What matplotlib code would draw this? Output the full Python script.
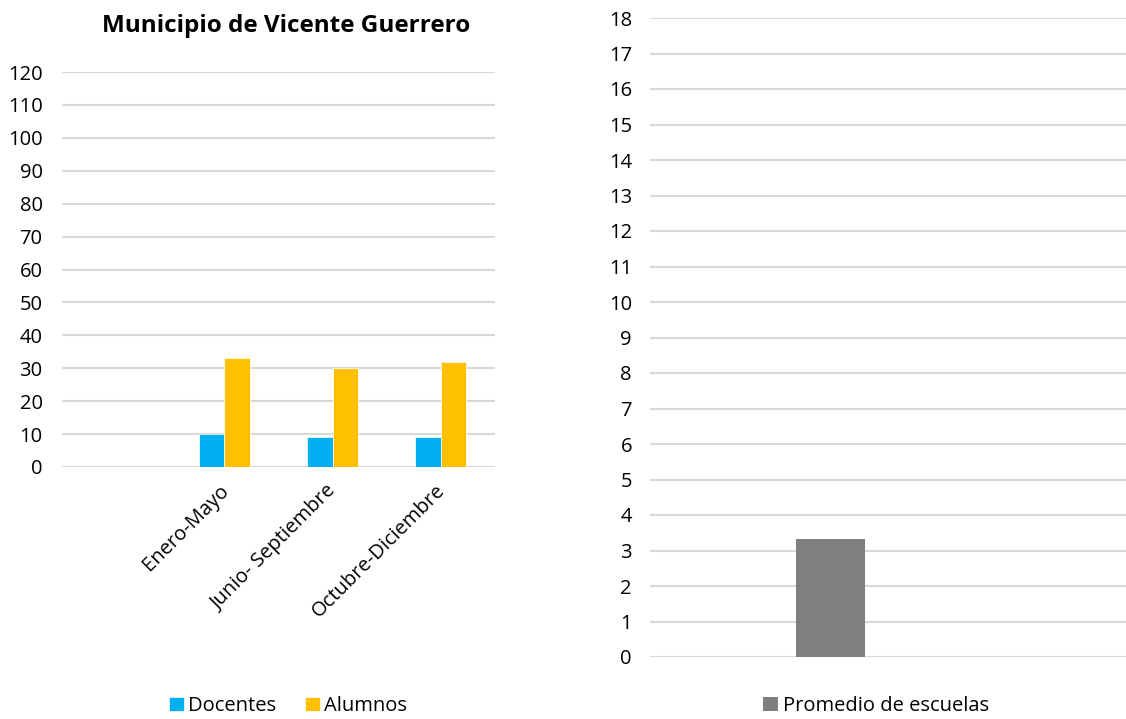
import matplotlib.pyplot as plt
import matplotlib.transforms as mtransforms
import numpy as np

# datos
periodos = ['', 'Enero-Mayo', 'Junio- Septiembre', 'Octubre-Diciembre']
docentes = [0, 10, 9, 9]
alumnos = [0, 33, 30, 32]

promedio_label = ['']
promedio_escuelas = [3.33]

plt.rcParams['font.family'] = ['Open Sans', 'DejaVu Sans']

fig = plt.figure(figsize=(11.26, 7.19), dpi=100)

grid_c = '#d9d9d9'
fs = 14.5

# grafica izquierda
ax1 = fig.add_axes([62 / 1126, 1 - 467 / 719, 433 / 1126, 395 / 719])
x = np.arange(len(periodos))
w = 0.235
b1 = ax1.bar(x - w / 2, docentes, w, color='#00B0F0', edgecolor='white', linewidth=0.5, label='Docentes', zorder=3)
b2 = ax1.bar(x + w / 2, alumnos, w, color='#FFC000', edgecolor='white', linewidth=0.5, label='Alumnos', zorder=3)
ax1.set_xlim(-0.5, 3.5)
ax1.set_ylim(0, 120)
ax1.set_yticks(range(0, 121, 10))
ax1.set_xticks(x)
ax1.set_xticklabels(periodos, rotation=45, ha='right', rotation_mode='anchor')
ax1.tick_params(axis='x', length=0, pad=12, labelsize=fs)
ax1.tick_params(axis='y', length=0, pad=14, labelsize=fs)
off = mtransforms.ScaledTranslation(-6 / 100, 3 / 100, fig.dpi_scale_trans)
for lbl in ax1.get_xticklabels():
    lbl.set_transform(lbl.get_transform() + off)
ax1.grid(axis='y', color=grid_c, linewidth=1.5, zorder=0)
for s in ax1.spines.values():
    s.set_visible(False)
fig.text(286 / 1126, 1 - 26 / 719, 'Municipio de Vicente Guerrero', ha='center', va='center',
         fontsize=17.5, fontweight='bold')
fig.legend(handles=[b1, b2], loc='center', bbox_to_anchor=(288 / 1126, 1 - 706 / 719), ncol=2,
           frameon=False, fontsize=fs, handlelength=0.75, handleheight=0.75, handletextpad=0.2,
           columnspacing=1.4)

# grafica derecha
ax2 = fig.add_axes([650 / 1126, 1 - 657 / 719, 476 / 1126, 639 / 719])
b3 = ax2.bar([0], promedio_escuelas, 0.145, color='#7F7F7F', label='Promedio de escuelas', zorder=3)
ax2.set_xlim(-0.38, 0.62)
ax2.set_ylim(0, 18)
ax2.set_yticks(range(0, 19))
ax2.set_xticks([])
ax2.tick_params(axis='y', length=0, pad=13, labelsize=fs)
ax2.grid(axis='y', color=grid_c, linewidth=1.5, zorder=0)
for s in ax2.spines.values():
    s.set_visible(False)
fig.legend(handles=[b3], loc='center', bbox_to_anchor=(876 / 1126, 1 - 706 / 719),
           frameon=False, fontsize=fs, handlelength=0.75, handleheight=0.75, handletextpad=0.2)

fig.savefig('out.png', dpi=100)
